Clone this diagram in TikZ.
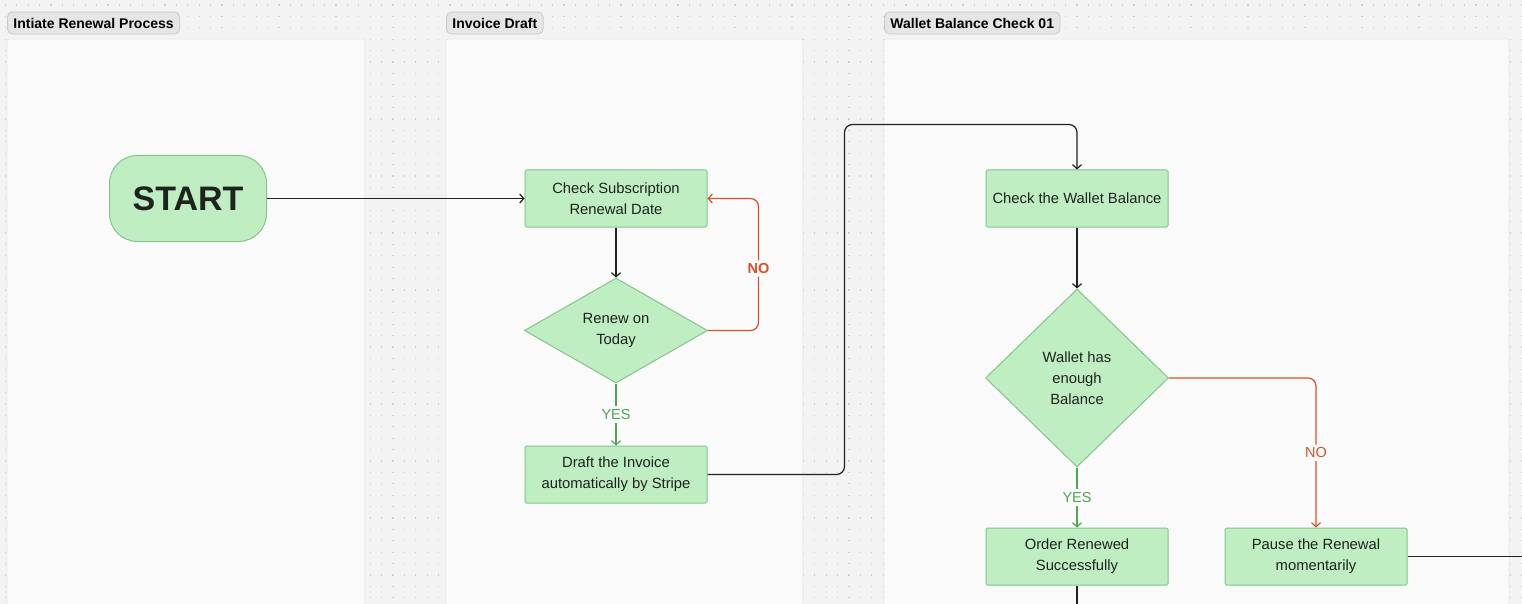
\documentclass[tikz,border=0pt]{standalone}
\usepackage{fontspec}
\setmainfont{Liberation Sans}
\usetikzlibrary{shapes.geometric,arrows.meta,calc}
\definecolor{bgc}{HTML}{F3F3F3}
\definecolor{dotc}{HTML}{CFCFCF}
\definecolor{panelc}{HTML}{FAFAFA}
\definecolor{panelb}{HTML}{E6E6E6}
\definecolor{tagf}{HTML}{E5E5E5}
\definecolor{tagb}{HTML}{C8C8C8}
\definecolor{boxf}{HTML}{C0EEC3}
\definecolor{boxb}{HTML}{86C38A}
\definecolor{txtc}{HTML}{1E231E}
\definecolor{linec}{HTML}{222222}
\definecolor{noc}{HTML}{D4532B}
\definecolor{yesc}{HTML}{4FA553}
\tikzset{
  panel/.style={fill=panelc,draw=panelb,line width=0.8pt,rounded corners=2pt},
  tag/.style={fill=tagf,draw=tagb,line width=0.8pt,rounded corners=5pt,anchor=west,
    minimum height=22pt,inner xsep=6pt,inner ysep=0pt,text=black,
    font=\bfseries\fontsize{14}{14}\selectfont},
  flowbox/.style={rectangle,fill=boxf,draw=boxb,line width=1pt,rounded corners=1.5pt,
    minimum width=182pt,minimum height=57pt,align=center,text=txtc,
    font=\fontsize{14.8}{21}\selectfont,inner sep=0pt},
  startbox/.style={rectangle,fill=boxf,draw=boxb,line width=1pt,rounded corners=28pt,
    minimum width=157pt,minimum height=86pt,text=txtc,
    font=\bfseries\fontsize{34}{34}\selectfont},
  decision/.style={diamond,fill=boxf,draw=boxb,line width=1pt,
    minimum width=183pt,minimum height=105pt,inner sep=0pt,align=center,text=txtc,
    font=\fontsize{14.8}{21}\selectfont},
  tipc/.style={-{Straight Barb[length=4pt,width=9pt,line width=1.2pt]}},
  conn/.style={draw=linec,line width=1.25pt,tipc},
  plain/.style={draw=linec,line width=1.25pt},
  noline/.style={draw=noc,line width=1.25pt,tipc},
  yesline/.style={draw=yesc,line width=1.25pt,tipc},
  nolbl/.style={fill=panelc,text=noc,inner sep=3pt,font=\bfseries\fontsize{14.5}{14.5}\selectfont},
  nolbl2/.style={fill=panelc,text=noc,inner sep=3pt,font=\fontsize{14.5}{14.5}\selectfont},
  yeslbl/.style={fill=panelc,text=yesc,inner sep=3pt,font=\fontsize{14.5}{14.5}\selectfont},
}
\begin{document}
\begin{tikzpicture}[x=1pt,y=-1pt]
\useasboundingbox (0,0) rectangle (1522,604);
\fill[bgc] (0,0) rectangle (1522,604);
\foreach \r in {0,...,53} {
  \draw[dotc,line width=1.1pt,dash pattern=on 1.1pt off 10.3pt] (4.8,5+\r*11.4) -- (1522,5+\r*11.4);
}
% panels
\draw[panel] (7,39) rectangle (365,615);
\draw[panel] (446,39) rectangle (803,615);
\draw[panel] (884,39) rectangle (1509,615);
% tags
\node[tag] (t1) at (7,23) {Intiate Renewal Process};
\node[tag] (t2) at (446,23) {Invoice Draft};
\node[tag] (t3) at (884,23) {Wallet Balance Check 01};
% nodes
\node[startbox] (start) at (188,198.5) {START};
\node[flowbox] (chk) at (616,198.5) {Check Subscription\\Renewal Date};
\node[decision] (renew) at (616,330.5) {Renew on\\Today};
\node[flowbox] (draft) at (616,474.5) {Draft the Invoice\\automatically by Stripe};
\node[flowbox] (wallet) at (1077,198.5) {Check the Wallet Balance};
\node[decision,minimum height=178pt] (enough) at (1077,378) {Wallet has\\enough\\Balance};
\node[flowbox] (order) at (1077,556.5) {Order Renewed\\Successfully};
\node[flowbox] (pause) at (1316,556.5) {Pause the Renewal\\momentarily};
\coordinate (offr) at (1522,556.5);
\coordinate (offd) at (1077,604);
% connectors
\draw[conn] (start) -- (chk);
\draw[conn] (chk) -- (renew);
\draw[noline,rounded corners=8pt] (renew.east) -| node[pos=0.735,nolbl]{NO} ([xshift=51pt]chk.east) -- (chk.east);
\draw[yesline] (renew.south) -- node[yeslbl]{YES} (draft.north);
\draw[conn,rounded corners=8pt] (draft.east) -- ++(137,0) |- ([yshift=45pt]wallet.north) -- (wallet.north);
\draw[conn] (wallet) -- (enough);
\draw[yesline] (enough.south) -- node[yeslbl]{YES} (order.north);
\draw[noline,rounded corners=8pt] (enough.east) -| node[pos=0.75,nolbl2]{NO} (pause.north);
\draw[plain] (pause.east) -- (offr);
\draw[plain] (order.south) -- (offd);
\end{tikzpicture}
\end{document}
